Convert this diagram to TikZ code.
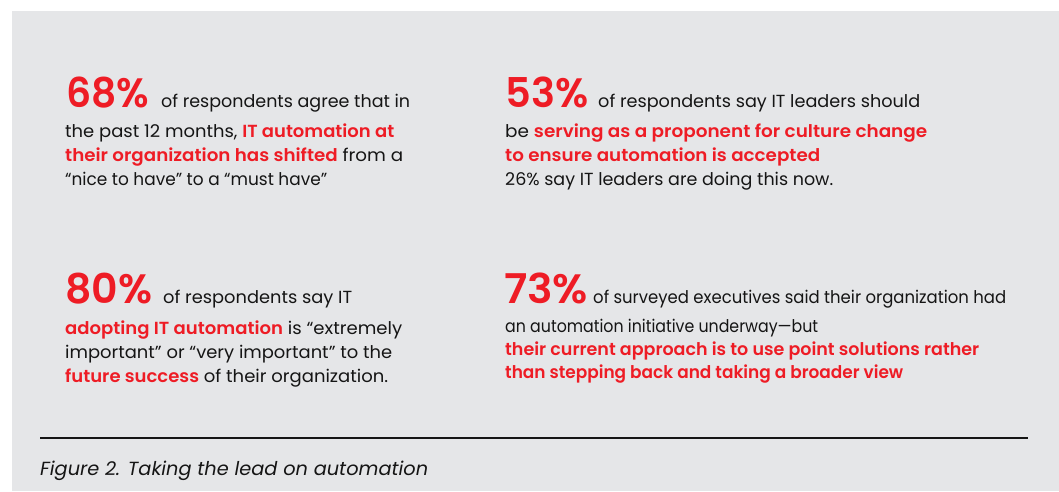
\documentclass[tikz,border=0pt]{standalone}
\usepackage{fontspec}
\usepackage{graphicx}
\setmainfont{Poppins}
\newfontfamily\pbold{Poppins SemiBold}
\definecolor{bg}{HTML}{E5E6E8}
\definecolor{rh}{HTML}{EE1C25}
\definecolor{ink}{HTML}{151515}
\newcommand{\hl}[1]{{\pbold\color{rh}#1}}
\newcommand{\fw}[2]{\resizebox{#1pt}{\height}{#2}}
\tikzset{
  txt/.style={anchor=base west, inner sep=0, text=ink, font=\fontsize{17.5}{20}\selectfont},
  big/.style={anchor=base west, inner sep=0, text=rh, font=\pbold\fontsize{41}{44}\selectfont},
  captxt/.style={anchor=base west, inner sep=0, text=ink, font=\itshape\fontsize{19}{22}\selectfont}
}
\begin{document}
\begin{tikzpicture}[x=1pt,y=-1pt]
\useasboundingbox (0,0) rectangle (1059,491);
\fill[bg] (12,11) rectangle (1059,491);
% block 1
\node[big] (p1) at (66,107) {\fw{83}{68\%}};
\node[txt] (a1) at (161,107) {\fw{249}{of respondents agree that in}};
\node[txt] (a2) at (65,137) {\fw{329}{the past 12 months, \hl{IT automation at}}};
\node[txt] (a3) at (65,161) {\fw{338}{\hl{their organization has shifted} from a}};
\node[txt] (a4) at (65,185) {\fw{262}{“nice to have” to a “must have”}};
% block 2
\node[big] (p2) at (505,107) {\fw{83}{53\%}};
\node[txt] (b1) at (598,107) {\fw{322}{of respondents say IT leaders should}};
\node[txt] (b2) at (505,137) {\fw{422}{be \hl{serving as a proponent for culture change}}};
\node[txt] (b3) at (505,161) {\fw{315}{\hl{to ensure automation is accepted}}};
\node[txt] (b4) at (505,185) {\fw{328}{26\% say IT leaders are doing this now.}};
% block 3
\node[big] (p3) at (65,303) {\fw{87}{80\%}};
\node[txt] (c1) at (163,303) {\fw{189}{of respondents say IT}};
\node[txt] (c2) at (65,334) {\fw{337}{\hl{adopting IT automation} is “extremely}};
\node[txt] (c3) at (65,358) {\fw{327}{important” or “very important” to the}};
\node[txt] (c4) at (65,382) {\fw{323}{\hl{future success} of their organization.}};
% block 4
\node[big] (p4) at (504,303) {\fw{84}{73\%}};
\node[txt] (d1) at (593,303) {\fw{413}{of surveyed executives said their organization had}};
\node[txt] (d2) at (505,332) {\fw{313}{an automation initiative underway—but}};
\node[txt] (d3) at (505,355) {\fw{474}{\hl{their current approach is to use point solutions rather}}};
\node[txt] (d4) at (505,378) {\fw{398}{\hl{than stepping back and taking a broader view}}};
% rule and caption
\coordinate (r1) at (40,438);
\coordinate (r2) at (1028,438);
\draw[line width=1.4pt, ink] (r1) -- (r2);
\node[captxt] (fig) at (40,475) {\fw{388}{Figure 2. Taking the lead on automation}};
\end{tikzpicture}
\end{document}
